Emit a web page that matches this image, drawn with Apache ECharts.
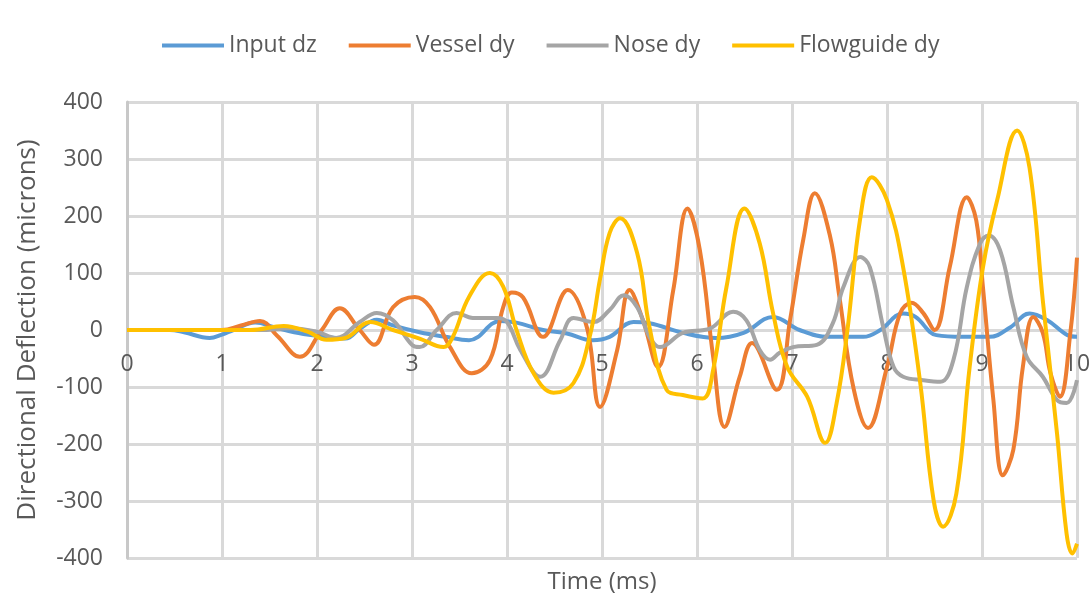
<!DOCTYPE html>
<html>
<head>
<meta charset="utf-8">
<script src="https://cdn.jsdelivr.net/npm/echarts@6/dist/echarts.min.js"></script>
<style>
html,body{margin:0;padding:0;background:#fff;}
#chart{width:1089px;height:599px;}
</style>
</head>
<body>
<div id="chart"></div>
<script>
// ---- data (time in ms, deflection in microns) ----
var seriesNames = ["Input dz", "Vessel dy", "Nose dy", "Flowguide dy"];
var xTicks = [0,1,2,3,4,5,6,7,8,9,10];
var yTicks = [-400,-300,-200,-100,0,100,200,300,400];

var inputT = [0,0.45,0.6,0.87,1.0,1.12,1.35,1.55,1.76,2.0,2.3,2.45,2.63,2.8,3.08,3.35,3.6,3.93,4.1,4.38,4.63,4.9,5.08,5.33,5.5,5.85,6.2,6.49,6.8,7.08,7.37,7.75,7.93,8.17,8.3,8.52,8.8,9.08,9.3,9.5,9.68,9.9,10];
var inputV = [0,0,-4,-14,-8,0,13,5,-4,-10,-15,2,18,8,-4,-12,-18,16,13,0,-6,-18,-12,14,12,-5,-14,-5,23,0,-12,-12,0,29,23,-9,-12,-12,5,29,18,-9,-12];

var vesselT = [0,1.0,1.2,1.4,1.58,1.82,2.05,2.24,2.45,2.6,2.8,3.03,3.19,3.4,3.63,3.82,3.96,4.05,4.17,4.38,4.64,4.84,4.98,5.16,5.29,5.43,5.59,5.75,5.9,6.03,6.17,6.29,6.45,6.58,6.84,6.98,7.12,7.24,7.4,7.5,7.65,7.8,8.0,8.14,8.26,8.38,8.5,8.66,8.84,8.94,9.01,9.12,9.22,9.33,9.43,9.54,9.64,9.72,9.82,9.93,10];
var vesselV = [0,0,8,16,-10,-47,0,38,0,-26,40,58,40,-30,-76,-53,40,66,57,-12,70,5,-135,-35,70,18,-65,70,213,140,-47,-170,-82,-23,-105,18,160,240,165,57,-104,-172,-65,30,48,30,0,110,233,192,75,-123,-255,-210,-65,23,-5,-75,-117,-5,127];

var noseT = [0,1.4,1.7,2.0,2.2,2.45,2.63,2.8,3.0,3.08,3.26,3.47,3.64,3.89,4.0,4.14,4.35,4.56,4.7,4.91,5.08,5.23,5.37,5.5,5.61,5.85,6.14,6.38,6.52,6.66,6.77,6.87,7.01,7.26,7.43,7.54,7.72,7.82,7.96,8.07,8.17,8.38,8.56,8.7,8.84,8.98,9.07,9.19,9.33,9.47,9.64,9.79,9.89,10];
var noseV = [0,0,3,-3,-14,14,30,17,-26,-30,0,30,21,21,14,-35,-82,-18,21,14,35,61,40,-12,-30,-5,3,32,17,-35,-52,-40,-30,-26,12,75,128,110,5,-65,-82,-88,-91,-52,75,152,166,140,40,-47,-82,-123,-128,-88];

var flowT = [0,1.3,1.65,1.9,2.1,2.3,2.56,2.8,3.08,3.33,3.43,3.6,3.82,3.96,4.1,4.28,4.49,4.7,4.87,4.98,5.08,5.19,5.37,5.5,5.68,5.85,6.06,6.17,6.31,6.5,6.66,6.8,6.95,7.16,7.35,7.47,7.58,7.72,7.84,8.0,8.17,8.35,8.49,8.59,8.73,8.87,9.01,9.16,9.37,9.5,9.64,9.79,9.89,9.95,10];
var flowV = [0,0,7,-3,-17,-14,14,0,-15,-30,-12,58,100,76,0,-76,-110,-93,-12,90,170,196,135,5,-105,-114,-120,-70,75,213,152,30,-65,-117,-198,-128,-5,198,268,228,110,-93,-298,-345,-287,-65,110,228,350,285,52,-182,-357,-392,-375];

var colors = ["#5B9BD5", "#ED7D31", "#A5A5A5", "#FFC000"];

function pairs(t, v) { return t.map(function (x, i) { return [x, v[i]]; }); }
var seriesData = [pairs(inputT, inputV), pairs(vesselT, vesselV), pairs(noseT, noseV), pairs(flowT, flowV)];

var FONT = "Open Sans";
var TXT = "#595959";
var GRID = "#d9d9d9";

var chart = echarts.init(document.getElementById("chart"), null, {renderer: "canvas"});
chart.setOption({
  animation: false,
  color: colors,
  textStyle: {fontFamily: FONT, color: TXT},
  legend: {
    top: 29,
    left: 157,
    itemWidth: 62,
    itemHeight: 14,
    itemGap: 32,
    icon: "path://M0,5 L62,5 L62,9 L0,9 Z",
    textStyle: {fontFamily: FONT, fontSize: 23, color: TXT},
    data: seriesNames
  },
  grid: {left: 127, right: 12, top: 102, bottom: 41, containLabel: false, outerBoundsMode: "none"},
  xAxis: {
    type: "value",
    min: xTicks[0],
    max: xTicks[xTicks.length - 1],
    interval: 1,
    name: "Time (ms)",
    nameLocation: "middle",
    nameGap: 12,
    nameTextStyle: {fontFamily: FONT, fontSize: 24, color: TXT},
    axisLine: {show: false, onZero: false},
    axisTick: {show: false},
    // tick labels sit under the zero line (value 0 on the y axis), as in the source
    axisLabel: {fontFamily: FONT, fontSize: 23, color: TXT, margin: -205},
    splitLine: {show: true, lineStyle: {color: GRID, width: 3}}
  },
  yAxis: {
    type: "value",
    min: yTicks[0],
    max: yTicks[yTicks.length - 1],
    interval: 100,
    name: "Directional Deflection (microns)",
    nameLocation: "middle",
    nameGap: 86,
    nameTextStyle: {fontFamily: FONT, fontSize: 26, color: TXT},
    axisLine: {show: true, onZero: false, lineStyle: {color: "#c8c8c8", width: 3}},
    axisTick: {show: false},
    axisLabel: {fontFamily: FONT, fontSize: 23, color: TXT, margin: 24},
    splitLine: {show: true, lineStyle: {color: GRID, width: 3}}
  },
  series: seriesNames.map(function (name, i) {
    return {
      name: name,
      type: "line",
      data: seriesData[i],
      smooth: 0.4,
      showSymbol: false,
      symbol: "none",
      lineStyle: {width: 4, color: colors[i]},
      itemStyle: {color: colors[i]},
      clip: false
    };
  })
});
</script>
</body>
</html>
